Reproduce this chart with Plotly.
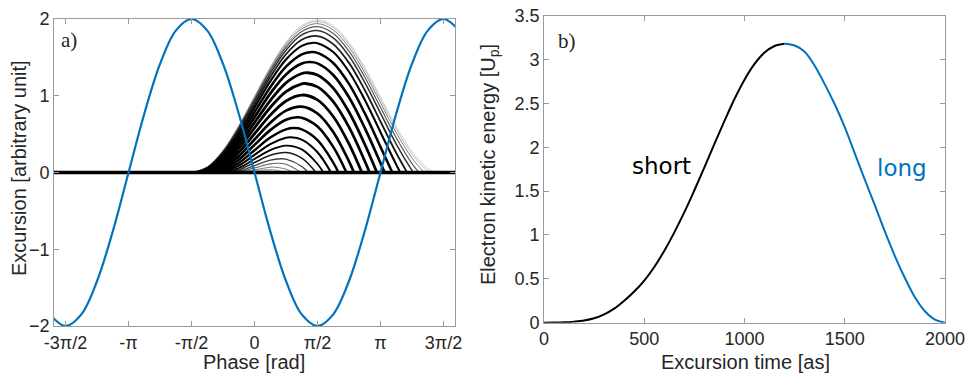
import plotly.graph_objects as go

# ---------------- Panel a) data ----------------
PHASE_RANGE = [-5.0, 5.0]
EXCURSION_RANGE = [-2.0, 2.0]
PHASE_TICKS = [-4.7124, -3.1416, -1.5708, 0.0, 1.5708, 3.1416, 4.7124]
PHASE_TICK_LABELS = ["-3\u03c0/2", "-\u03c0", "-\u03c0/2", "0", "\u03c0/2", "\u03c0", "3\u03c0/2"]
EXCURSION_TICKS = [-2, -1, 0, 1, 2]

# driving field (blue)
FIELD_PHASE = [-5.1051, -4.7124, -4.3197, -3.9270, -3.5343, -3.1416, -2.7489, -2.3562,
               -1.9635, -1.5708, -1.1781, -0.7854, -0.3927, 0.0, 0.3927, 0.7854,
               1.1781, 1.5708, 1.9635, 2.3562, 2.7489, 3.1416, 3.5343, 3.9270,
               4.3197, 4.7124, 5.1051]
FIELD_VALUE = [-1.848, -2.0, -1.848, -1.414, -0.765, 0.0, 0.765, 1.414,
               1.848, 2.0, 1.848, 1.414, 0.765, 0.0, -0.765, -1.414,
               -1.848, -2.0, -1.848, -1.414, -0.765, 0.0, 0.765, 1.414,
               1.848, 2.0, 1.848]

# electron at rest (before birth / after return)
REST_PHASE = [-5.0, 5.0]
REST_EXCURSION = [0.0, 0.0]

# electron trajectories (phase, excursion)
TRAJ_PHASE = [
    [-1.5676, -1.1781, -0.7854, -0.3927, 0, 0.3927, 0.7854, 1.1781, 1.5708, 1.9635, 2.3562, 2.7489, 3.1416, 3.5343, 3.9270, 4.3197, 4.515],
    [-1.5612, -1.1781, -0.7854, -0.3927, 0, 0.3927, 0.7854, 1.1781, 1.5708, 1.9635, 2.3562, 2.7489, 3.1416, 3.5343, 3.9270, 4.3197, 4.375],
    [-1.5516, -1.1781, -0.7854, -0.3927, 0, 0.3927, 0.7854, 1.1781, 1.5708, 1.9635, 2.3562, 2.7489, 3.1416, 3.5343, 3.9270, 4.2364],
    [-1.5386, -1.1781, -0.7854, -0.3927, 0, 0.3927, 0.7854, 1.1781, 1.5708, 1.9635, 2.3562, 2.7489, 3.1416, 3.5343, 3.9270, 4.1004],
    [-1.5223, -1.1781, -0.7854, -0.3927, 0, 0.3927, 0.7854, 1.1781, 1.5708, 1.9635, 2.3562, 2.7489, 3.1416, 3.5343, 3.9270, 3.964],
    [-1.4990, -1.1781, -0.7854, -0.3927, 0, 0.3927, 0.7854, 1.1781, 1.5708, 1.9635, 2.3562, 2.7489, 3.1416, 3.5343, 3.8068],
    [-1.4688, -1.1781, -0.7854, -0.3927, 0, 0.3927, 0.7854, 1.1781, 1.4688, 1.5708, 1.9635, 2.3562, 2.7489, 3.1416, 3.5343, 3.6369],
    [-1.4268, -1.1781, -0.7854, -0.3927, 0, 0.3927, 0.7854, 1.1781, 1.4268, 1.5708, 1.9635, 2.3562, 2.7489, 3.1416, 3.4376],
    [-1.3798, -1.1781, -0.7854, -0.3927, 0, 0.3927, 0.7854, 1.1781, 1.3798, 1.5708, 1.9635, 2.3562, 2.7489, 3.1416, 3.2455],
    [-1.3268, -1.1781, -0.7854, -0.3927, 0, 0.3927, 0.7854, 1.1781, 1.3268, 1.5708, 1.9635, 2.3562, 2.7489, 3.0536],
    [-1.2708, -1.1781, -0.7854, -0.3927, 0, 0.3927, 0.7854, 1.1781, 1.2708, 1.5708, 1.9635, 2.3562, 2.7489, 2.8699],
    [-1.2068, -0.7854, -0.3927, 0, 0.3927, 0.7854, 1.1781, 1.5708, 1.9635, 2.3562, 2.6769],
    [-1.1368, -0.7854, -0.3927, 0, 0.3927, 0.7854, 1.1781, 1.5708, 1.9635, 2.3562, 2.4804],
    [-1.0658, -0.7854, -0.3927, 0, 0.3927, 0.7854, 1.0658, 1.1781, 1.5708, 1.9635, 2.2935],
    [-0.9858, -0.7854, -0.3927, 0, 0.3927, 0.7854, 0.9858, 1.1781, 1.5708, 1.9635, 2.0933],
    [-0.9078, -0.7854, -0.3927, 0, 0.3927, 0.7854, 0.9078, 1.1781, 1.5708, 1.9069],
    [-0.8258, -0.3927, 0, 0.3927, 0.7854, 1.1781, 1.5708, 1.7179],
    [-0.7438, -0.3927, 0, 0.3927, 0.7854, 1.1781, 1.5343],
    [-0.6538, -0.3927, 0, 0.3927, 0.6538, 0.7854, 1.1781, 1.3392],
    [-0.5708, -0.3927, 0, 0.3927, 0.5708, 0.7854, 1.1616],
    [-0.4748, -0.3927, 0, 0.3927, 0.4748, 0.7854, 0.9620],
    [-0.3908, 0, 0.3927, 0.7877],
    [-0.3108, 0, 0.3108, 0.3927, 0.6248],
]
TRAJ_EXCURSION = [
    [0, .0749, .2904, .6135, .9950, 1.3764, 1.6996, 1.9151, 1.9899, 1.9126, 1.6945, 1.3689, .9849, .6010, .2753, .0573, 0],
    [0, .0724, .2854, .6060, .9850, 1.3638, 1.6845, 1.8975, 1.9698, 1.8900, 1.6694, 1.3412, .9548, .5683, .2401, .0195, 0],
    [0, .0688, .2780, .5949, .9700, 1.3452, 1.6621, 1.8713, 1.9399, 1.8562, 1.6319, 1.3000, .9097, .5195, .1875, 0],
    [0, .0640, .2681, .5799, .9500, 1.3200, 1.6318, 1.8359, 1.8994, 1.8107, 1.5812, 1.2442, .8488, .4535, .1165, 0],
    [0, .0582, .2560, .5614, .9250, 1.2887, 1.5940, 1.7918, 1.8489, 1.7537, 1.5179, 1.1744, .7727, .3710, .0275, 0],
    [0, .0505, .2391, .5354, .8899, 1.2444, 1.5406, 1.7293, 1.7772, 1.6729, 1.4280, 1.0754, .6645, .2536, 0],
    [0, .0413, .2181, .5025, .8453, 1.1880, 1.4724, 1.6492, 1.6905, 1.6853, 1.5692, 1.3124, .9481, .5254, .1027, 0],
    [0, .0301, .1905, .4586, .7849, 1.1113, 1.3793, 1.5398, 1.5698, 1.5595, 1.4270, 1.1539, .7731, .3341, 0],
    [0, .0196, .1619, .4117, .7199, 1.0280, 1.2779, 1.4201, 1.4397, 1.4217, 1.2710, .9797, .5807, .1235, 0],
    [0, .0106, .1325, .3620, .6498, .9377, 1.1672, 1.2891, 1.2997, 1.2704, 1.0994, .7877, .3684, 0],
    [0, .0041, .1048, .3132, .5798, .8465, 1.0548, 1.1556, 1.1596, 1.1156, .9235, .5906, .1502, 0],
    [0, .0774, .2620, .5049, .7477, .9323, 1.0093, .9456, .7297, .3731, 0],
    [0, .0524, .2117, .4293, .6469, .8061, .8578, .7688, .5276, .1456, 0],
    [0, .0324, .1668, .3595, .5522, .6866, .7190, .7134, .5995, .3334, 0],
    [0, .0160, .1235, .2894, .4552, .5628, .5788, .5627, .4220, .1290, 0],
    [0, .0058, .0885, .2295, .3705, .4532, .4590, .4284, .2628, 0],
    [0, .0589, .1754, .2919, .3501, .3007, .1106, 0],
    [0, .0360, .1297, .2235, .2589, .1867, 0],
    [0, .0185, .0895, .1606, .1790, .1733, .0784, 0],
    [0, .0077, .0600, .1122, .1200, .1062, 0],
    [0, .0017, .0352, .0687, .0703, .0438, 0],
    [0, .0196, .0392, 0],
    [0, .0099, .0218, .0187, 0],
]

# ---------------- Panel b) data ----------------
SHORT_TIME = [0, 50, 100, 150, 200, 250, 300, 350, 400, 450, 500, 550, 600, 650,
              700, 750, 800, 850, 900, 950, 1000, 1050, 1100, 1150, 1200]
SHORT_ENERGY = [0, 0.001, 0.004, 0.012, 0.025, 0.05, 0.095, 0.16, 0.25, 0.355, 0.48,
                0.635, 0.82, 1.03, 1.26, 1.51, 1.77, 2.04, 2.30, 2.55, 2.77, 2.95,
                3.08, 3.155, 3.18]
LONG_TIME = [1200, 1250, 1300, 1350, 1400, 1450, 1500, 1550, 1600, 1650, 1700, 1750,
             1800, 1850, 1900, 1950, 2000]
LONG_ENERGY = [3.18, 3.16, 3.09, 2.93, 2.72, 2.49, 2.23, 1.93, 1.63, 1.34, 1.04, 0.76,
               0.51, 0.29, 0.13, 0.035, 0]
TIME_RANGE = [0, 2000]
ENERGY_RANGE = [0, 3.5]
TIME_TICKS = [0, 500, 1000, 1500, 2000]
ENERGY_TICKS = [0, 0.5, 1, 1.5, 2, 2.5, 3, 3.5]
ENERGY_TICK_LABELS = ["0", "0.5", "1", "1.5", "2", "2.5", "3", "3.5"]

# ---------------- styles ----------------
BLUE = "#0072BD"
AXIS_GREY = "#9a9a9a"
TEXT = "#262626"
SANS = "Liberation Sans, Arial, sans-serif"
SERIF = "Liberation Serif, Times New Roman, serif"
TRAJ_WIDTH = [0.7, 0.8, 1.0, 1.2, 1.5, 1.8, 2.1, 2.5, 2.7, 2.8, 2.8, 2.8, 2.7, 2.6,
              2.4, 2.1, 1.8, 1.5, 1.3, 1.1, 1.0, 0.9, 0.8]
TRAJ_ALPHA = [0.25, 0.35, 0.5, 0.65, 0.8, 0.9, 1, 1, 1, 1, 1, 1, 1, 1, 1, 1, 1,
              0.9, 0.75, 0.6, 0.5, 0.4, 0.3]

fig = go.Figure()

fig.add_trace(go.Scatter(x=REST_PHASE, y=REST_EXCURSION, mode="lines",
                         line=dict(color="black", width=3.5),
                         xaxis="x", yaxis="y", showlegend=False, hoverinfo="skip"))
for ph, ex, w, a in zip(TRAJ_PHASE, TRAJ_EXCURSION, TRAJ_WIDTH, TRAJ_ALPHA):
    fig.add_trace(go.Scatter(x=ph, y=ex, mode="lines",
                             line=dict(color=f"rgba(0,0,0,{a})", width=w, shape="spline"),
                             xaxis="x", yaxis="y", showlegend=False, hoverinfo="skip"))
fig.add_trace(go.Scatter(x=FIELD_PHASE, y=FIELD_VALUE, mode="lines",
                         line=dict(color=BLUE, width=2.2, shape="spline"),
                         xaxis="x", yaxis="y", showlegend=False))

fig.add_trace(go.Scatter(x=SHORT_TIME, y=SHORT_ENERGY, mode="lines",
                         line=dict(color="black", width=2, shape="spline"),
                         xaxis="x2", yaxis="y2", showlegend=False))
fig.add_trace(go.Scatter(x=LONG_TIME, y=LONG_ENERGY, mode="lines",
                         line=dict(color=BLUE, width=2, shape="spline"),
                         xaxis="x2", yaxis="y2", showlegend=False))

axis_common = dict(showline=True, linecolor=AXIS_GREY, linewidth=1, mirror="ticks",
                   ticks="inside", ticklen=5, tickcolor=AXIS_GREY, tickwidth=1,
                   showgrid=False, zeroline=False, automargin=False,
                   tickfont=dict(family=SANS, size=18, color=TEXT))

fig.update_layout(
    width=972, height=376,
    margin=dict(l=0, r=0, t=0, b=0, pad=0),
    paper_bgcolor="white", plot_bgcolor="white",
    xaxis=dict(domain=[0.0556, 0.4681], range=PHASE_RANGE, tickmode="array",
               tickvals=PHASE_TICKS, ticktext=PHASE_TICK_LABELS, anchor="y", **axis_common),
    yaxis=dict(domain=[0.1330, 0.9495], range=EXCURSION_RANGE, tickmode="array",
               tickvals=EXCURSION_TICKS, anchor="x", **axis_common),
    xaxis2=dict(domain=[0.5597, 0.9722], range=TIME_RANGE, tickmode="array",
                tickvals=TIME_TICKS, anchor="y2", **axis_common),
    yaxis2=dict(domain=[0.1418, 0.9582], range=ENERGY_RANGE, tickmode="array",
                tickvals=ENERGY_TICKS, ticktext=ENERGY_TICK_LABELS, anchor="x2", **axis_common),
    annotations=[
        dict(text="Phase [rad]", xref="paper", yref="paper", x=0.2613, y=0.002,
             xanchor="center", yanchor="bottom", showarrow=False,
             font=dict(family=SANS, size=20, color=TEXT)),
        dict(text="Excursion time [as]", xref="paper", yref="paper", x=0.7665, y=0.002,
             xanchor="center", yanchor="bottom", showarrow=False,
             font=dict(family=SANS, size=20, color=TEXT)),
        dict(text="Excursion [arbitrary unit]", xref="paper", yref="paper", x=0.0195, y=0.553,
             xanchor="center", yanchor="middle", textangle=-90, showarrow=False,
             font=dict(family=SANS, size=20, color=TEXT)),
        dict(text="Electron kinetic energy [U<sub>p</sub>]", xref="paper", yref="paper",
             x=0.5031, y=0.561, xanchor="center", yanchor="middle", textangle=-90,
             showarrow=False, font=dict(family=SANS, size=20, color=TEXT)),
        dict(text="a)", xref="paper", yref="paper", x=0.071, y=0.8936,
             xanchor="center", yanchor="middle", showarrow=False,
             font=dict(family=SERIF, size=21, color=TEXT)),
        dict(text="b)", xref="paper", yref="paper", x=0.5833, y=0.891,
             xanchor="center", yanchor="middle", showarrow=False,
             font=dict(family=SERIF, size=21, color=TEXT)),
        dict(text="short", xref="x2", yref="y2", x=585, y=1.79,
             xanchor="center", yanchor="middle", showarrow=False,
             font=dict(family="DejaVu Sans", size=23, color="black")),
        dict(text="long", xref="x2", yref="y2", x=1784, y=1.76,
             xanchor="center", yanchor="middle", showarrow=False,
             font=dict(family="DejaVu Sans", size=23, color=BLUE)),
    ],
)

fig.write_html("out.html")
